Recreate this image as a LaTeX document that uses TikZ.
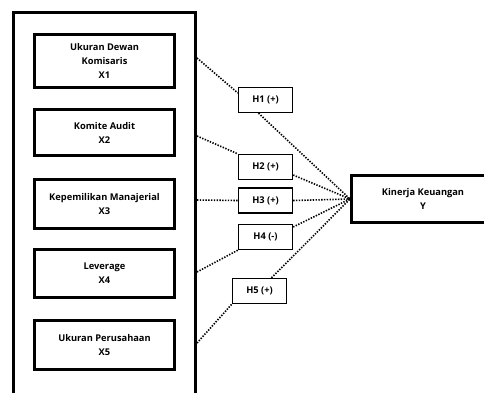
\documentclass[tikz,border=0pt]{standalone}
\usepackage{fontspec}
\setmainfont{Open Sans}
\begin{document}
\begin{tikzpicture}[x=1pt,y=-1pt,
  every node/.style={font=\fontsize{9.3}{14}\selectfont\bfseries, align=center, inner sep=0pt},
  varbox/.style={draw, line width=3pt, minimum width=140pt},
  hbox/.style={draw, line width=1.3pt, minimum width=54pt, minimum height=25pt},
  link/.style={line width=1.6pt, dash pattern=on 1.4pt off 1.4pt}]
\useasboundingbox (0,0) rectangle (484,392);
\clip (0,0) rectangle (484,392);
\fill[white] (0,0) rectangle (484,392);
% outer frame
\draw[line width=3.5pt] (13.5,400) -- (13.5,12.5) -- (195.5,12.5) -- (195.5,400);
\coordinate (o1) at (197,58);
\coordinate (o2) at (197,136);
\coordinate (o3) at (197,200);
\coordinate (o4) at (197,272);
\coordinate (o5) at (197,343);
% variable boxes
\node[varbox, minimum height=53pt] (x1) at (104.5,61) {Ukuran Dewan\\Komisaris\\X1};
\node[varbox, minimum height=46pt] (x2) at (104.5,132.5) {Komite Audit\\X2};
\node[varbox, minimum height=49pt] (x3) at (104.5,204) {Kepemilikan Manajerial\\X3};
\node[varbox, minimum height=48pt] (x4) at (104.5,273.5) {Leverage\\X4};
\node[varbox, minimum height=49pt] (x5) at (104.5,345) {Ukuran Perusahaan\\X5};
% hypothesis boxes
\node[hbox] (h1) at (265.5,100) {H1 (+)};
\node[hbox] (h2) at (265.5,167) {H2 (+)};
\node[hbox] (h3) at (265.5,200.5) {H3 (+)};
\node[hbox] (h4) at (265.5,237) {H4 (-)};
\node[hbox] (h5) at (259.5,291) {H5 (+)};
% dependent
\node[draw, line width=3pt, minimum width=143pt, minimum height=47pt] (y) at (423,199) {Kinerja Keuangan\\Y};
\coordinate (yin) at (y.west);
% links
\coordinate (h1in) at (h1.west |- 0,93);
\coordinate (h1s) at ([xshift=-7pt]h1.south);
\coordinate (h2out) at (h2.east |- 0,175);
\coordinate (h4out) at (h4.east |- 0,227);
\coordinate (h5n) at ([xshift=12pt]h5.north);
\draw[link] (o1) -- (h1in);
\draw[link] (h1s) -- (yin);
\draw[link] (o2) -- (h2.north west);
\draw[link] (h2out) -- (yin);
\draw[link] (o3) -- (h3.west);
\draw[link] (h3.east) -- (yin);
\draw[link] (o4) -- (h4.south west);
\draw[link] (h4out) -- (yin);
\draw[link] (o5) -- (h5.south west);
\draw[link] (h5n) -- (yin);
\end{tikzpicture}
\end{document}
